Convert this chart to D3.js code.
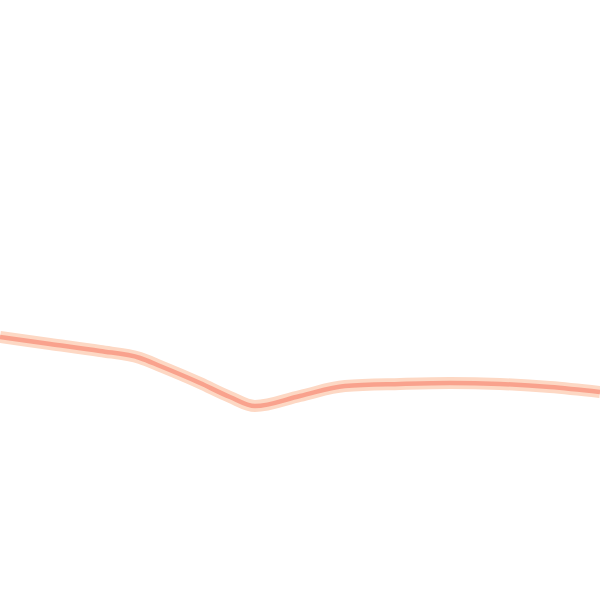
<!DOCTYPE html>
<html>
<head>
<meta charset="utf-8">
<script src="https://cdn.jsdelivr.net/npm/d3@7"></script>
<style>
  html, body { margin: 0; padding: 0; background: #fff; }
</style>
</head>
<body>
<div id="chart"></div>
<script>
// sample positions along the line and the level at each
const xs = [0, 50, 100, 140, 160, 200, 230, 255, 300, 345, 400, 450, 500, 550, 600];
const levels = [263, 256, 249, 242, 234, 217, 203, 194, 204, 214, 216, 217, 216, 213, 208];

const width = 600, height = 600;

const svg = d3.select("#chart")
  .append("svg")
  .attr("width", width)
  .attr("height", height);

const x = d3.scaleLinear().domain([0, 600]).range([0, width]);
const y = d3.scaleLinear().domain([0, 600]).range([height, 0]);

const data = xs.map((d, i) => ({ x: d, y: levels[i] }));

const line = d3.line()
  .x(d => x(d.x))
  .y(d => y(d.y))
  .curve(d3.curveMonotoneX);

// soft outer band
svg.append("path")
  .datum(data)
  .attr("d", line)
  .attr("fill", "none")
  .attr("stroke", "#fdd8c4")
  .attr("stroke-width", 12)
  .attr("stroke-linejoin", "round");

// core stroke
svg.append("path")
  .datum(data)
  .attr("d", line)
  .attr("fill", "none")
  .attr("stroke", "#f9a28d")
  .attr("stroke-width", 4.5)
  .attr("stroke-linejoin", "round");
</script>
</body>
</html>
